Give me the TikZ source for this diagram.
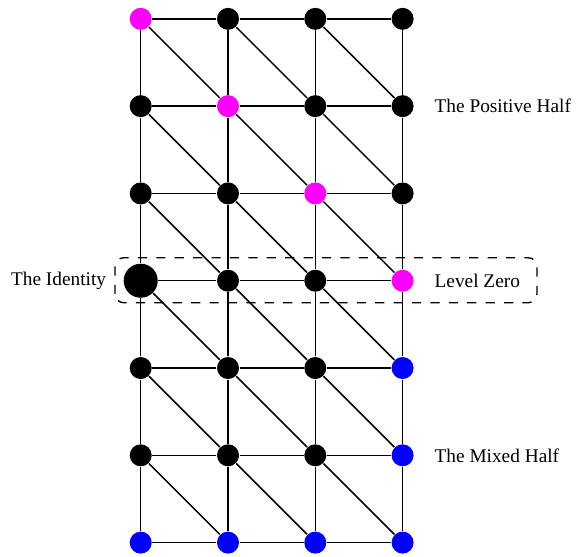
\documentclass[tikz,border=0pt]{standalone}
\usepackage{fontspec}
\setmainfont{Liberation Serif}
\definecolor{vmag}{RGB}{255,0,255}
\definecolor{vblue}{RGB}{0,0,255}
\begin{document}
\begin{tikzpicture}[x=1cm,y=1cm,
  vert/.style={circle,fill=#1,inner sep=0pt,minimum size=0.252cm},
  vert/.default=black,
  bigvert/.style={circle,fill=black,inner sep=0pt,minimum size=0.39cm},
  edge/.style={line width=0.5pt,black},
  lab/.style={inner sep=0pt,font=\fontsize{6.3}{7.6}\selectfont}]
\useasboundingbox (-1.612,-0.164) rectangle (4.998,6.216);
% dashed level zero box
\draw[dashed,line width=0.45pt,rounded corners=0.1cm] (-0.294,2.748) rectangle (4.54,3.263);
% vertices
\foreach \c in {0,...,3}{
  \foreach \r in {0,...,6}{
    \pgfmathtruncatemacro{\s}{\r+\c}
    \def\vcol{black}
    \ifnum\s=6 \def\vcol{vmag}\fi
    \ifnum\r=0 \def\vcol{vblue}\fi
    \ifnum\c=3 \ifnum\r<3 \def\vcol{vblue}\fi\fi
    \ifnum\c=0 \ifnum\r=3
      \node[bigvert] (n-\c-\r) at (\c,\r) {};
    \else
      \node[vert=\vcol] (n-\c-\r) at (\c,\r) {};
    \fi
    \else
      \node[vert=\vcol] (n-\c-\r) at (\c,\r) {};
    \fi
  }
}
% horizontal edges
\foreach \r in {0,...,6}{
  \foreach \c [evaluate=\c as \cn using int(\c+1)] in {0,1,2}{
    \draw[edge] (n-\c-\r) -- (n-\cn-\r);
  }
}
% vertical edges
\foreach \c in {0,...,3}{
  \foreach \r [evaluate=\r as \rn using int(\r+1)] in {0,...,5}{
    \draw[edge] (n-\c-\r) -- (n-\c-\rn);
  }
}
% diagonal edges
\foreach \c [evaluate=\c as \cn using int(\c+1)] in {0,1,2}{
  \foreach \r [evaluate=\r as \rn using int(\r+1)] in {0,...,5}{
    \draw[edge] (n-\c-\rn) -- (n-\cn-\r);
  }
}
% labels
\node[lab,anchor=east] (lid) at (-0.39,3) {The Identity};
\node[lab,anchor=west] (lzero) at (3.36,3) {Level Zero};
\node[lab,anchor=west] (lpos) at (3.36,5) {The Positive Half};
\node[lab,anchor=west] (lmix) at (3.36,1) {The Mixed Half};
\end{tikzpicture}
\end{document}
